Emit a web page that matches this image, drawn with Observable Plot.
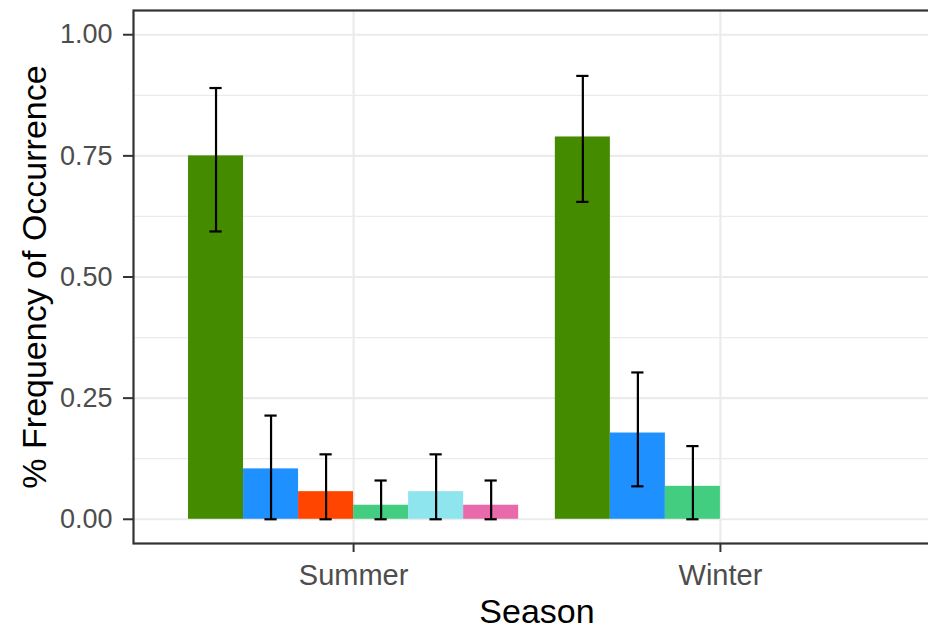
<!DOCTYPE html>
<html>
<head>
<meta charset="utf-8">
<script src="https://cdn.jsdelivr.net/npm/d3@7"></script>
<script src="https://cdn.jsdelivr.net/npm/@observablehq/plot@0.6"></script>
<style>
  html, body { margin: 0; padding: 0; background: #fff; overflow: hidden; }
  #chart { width: 928px; height: 633px; overflow: hidden; }
  #chart svg { max-width: none !important; }
</style>
</head>
<body>
<div id="chart"></div>
<script>
// Seasons on the x axis
const seasons = ["Summer", "Winter"];

// Summer: mean frequency of occurrence and its interval, per dodged bar
const summerMean = [0.750, 0.104, 0.057, 0.029, 0.057, 0.029];
const summerLow  = [0.594, 0.000, 0.000, 0.000, 0.000, 0.000];
const summerHigh = [0.890, 0.214, 0.134, 0.080, 0.134, 0.080];
const summerFill = ["#458B00", "#1E90FF", "#FF4500", "#43CD80", "#8EE5EE", "#E86AAB"];

// Winter: only three bars are present
const winterMean = [0.789, 0.178, 0.068];
const winterLow  = [0.655, 0.068, 0.000];
const winterHigh = [0.915, 0.303, 0.151];
const winterFill = ["#458B00", "#1E90FF", "#43CD80"];

// Axis ticks
const yTicks = [0, 0.25, 0.5, 0.75, 1];
const yMinor = [0.125, 0.375, 0.625, 0.875];

// Dodge geometry: 6 slots sharing 0.9 of a category unit
const slots = 6;
const dodgeWidth = 0.9;
const slotWidth = dodgeWidth / slots;
const capWidth = 0.2 * slotWidth / dodgeWidth;

function rows(seasonIndex, mean, low, high, fill) {
  return mean.map((m, i) => {
    const x1 = (seasonIndex + 1) - dodgeWidth / 2 + i * slotWidth;
    return {
      season: seasons[seasonIndex],
      x1, x2: x1 + slotWidth, xc: x1 + slotWidth / 2,
      mean: m, low: low[i], high: high[i], fill: fill[i]
    };
  });
}

const data = [
  ...rows(0, summerMean, summerLow, summerHigh, summerFill),
  ...rows(1, winterMean, winterLow, winterHigh, winterFill)
];

const chart = Plot.plot({
  width: 940,
  height: 633,
  marginLeft: 133,
  marginRight: 0,
  marginTop: 10,
  marginBottom: 90,
  style: { fontFamily: "'Liberation Sans', Arial, sans-serif", background: "#fff", color: "#000" },
  x: { type: "linear", domain: [0.4, 2.6] },
  y: { domain: [-0.05, 1.05] },
  marks: [
    // panel grid
    Plot.ruleY(yMinor, { stroke: "#ebebeb", strokeWidth: 1.2 }),
    Plot.ruleY(yTicks, { stroke: "#ebebeb", strokeWidth: 2.2 }),
    Plot.ruleX([1, 2], { stroke: "#ebebeb", strokeWidth: 2.2 }),
    // bars
    Plot.rectY(data, { x1: "x1", x2: "x2", y1: 0, y2: "mean", fill: "fill" }),
    // error bars
    Plot.ruleX(data, { x: "xc", y1: "low", y2: "high", stroke: "#000", strokeWidth: 2.2 }),
    Plot.ruleY(data, { y: "low", x1: d => d.xc - capWidth / 2, x2: d => d.xc + capWidth / 2, stroke: "#000", strokeWidth: 2.2 }),
    Plot.ruleY(data, { y: "high", x1: d => d.xc - capWidth / 2, x2: d => d.xc + capWidth / 2, stroke: "#000", strokeWidth: 2.2 }),
    // axes
    Plot.axisY({
      ticks: yTicks, tickFormat: d3.format(".2f"), tickSize: 10, tickPadding: 11,
      stroke: "#333", strokeWidth: 2, fill: "#4d4d4d", fontSize: 27, label: null
    }),
    Plot.axisX({
      ticks: [1, 2], tickFormat: d => seasons[d - 1], tickSize: 9, tickPadding: 12,
      stroke: "#333", strokeWidth: 2, fill: "#4d4d4d", fontSize: 29, label: null
    }),
    // axis titles
    Plot.text(["Season"], { frameAnchor: "bottom", dy: 79, fontSize: 34, fill: "#000" }),
    Plot.text(["% Frequency of Occurrence"], { frameAnchor: "left", textAnchor: "middle", dx: -98, rotate: -90, fontSize: 34, fill: "#000" }),
    // panel border
    Plot.frame({ stroke: "#333", strokeWidth: 2.2 })
  ]
});

document.getElementById("chart").appendChild(chart);
</script>
</body>
</html>
